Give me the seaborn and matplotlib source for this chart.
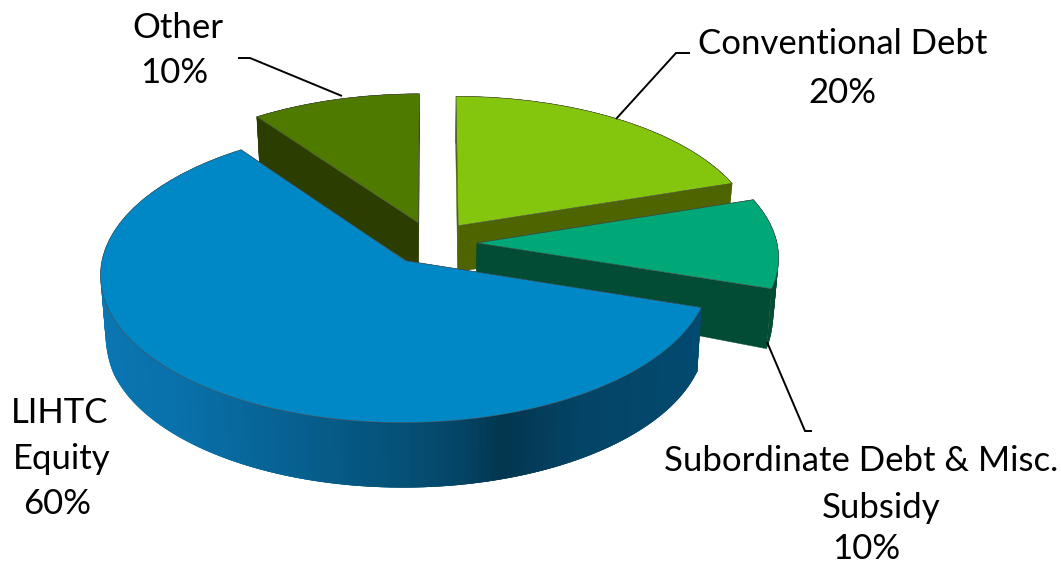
import numpy as np
import matplotlib
matplotlib.use("Agg")
import matplotlib.pyplot as plt
from matplotlib.collections import PolyCollection
from matplotlib.transforms import Transform
import seaborn as sns

# Financing sources, clockwise from twelve o'clock
sources = ["Conventional Debt", "Subordinate Debt & Misc. Subsidy", "LIHTC Equity", "Other"]
shares = [20, 10, 60, 10]
top_colors = ["#84C50E", "#00A878", "#0088C6", "#4F7A00"]
wall_colors = ["#4D6400", "#024B34", "#04486C", "#2C3D00"]
explode = [0.15, 0.15, 0.15, 0.15]
draw_order = [3, 0, 1, 2]  # back slices first, front slice last

# Projection of the unit disc onto the canvas (pixel units)
CX, CY, RX, RY, PERSP = 432.0, 243.0, 300.0, 144.0, 0.09
DEPTH_Y = [-1.12, -0.43, -0.31, 0.12, 0.95]
DEPTH_PX = [65, 64, 60, 46, 47]
BOTTOM_SHRINK = 0.985


def project(x, y, lower=False):
    x, y = np.asarray(x, float), np.asarray(y, float)
    w = 1 + PERSP * y
    px, py = RX * x / w, -RY * y / w
    if lower:
        px = px * BOTTOM_SHRINK
        py = py + np.interp(y, DEPTH_Y, DEPTH_PX)
    return CX + px, CY + py


class TiltedDisc(Transform):
    input_dims = output_dims = 2
    is_separable = False

    def transform_non_affine(self, values):
        px, py = project(values[:, 0], values[:, 1])
        return np.column_stack([px, py])


sns.set_theme(style="white")
plt.rcParams["font.family"] = ["Lato", "DejaVu Sans"]

fig = plt.figure(figsize=(10.61, 5.68), dpi=100)
ax = fig.add_axes([0, 0, 1, 1])

palette = sns.color_palette(top_colors)
wedges, _ = ax.pie(shares, explode=explode, colors=palette, startangle=90,
                   counterclock=False, frame=False,
                   wedgeprops=dict(edgecolor="#4a4a4a", linewidth=0.4))
ax.set_aspect("auto")
ax.set_xlim(0, 1061)
ax.set_ylim(568, 0)
ax.axis("off")


def blue_shade(px):
    # Side of the large slice darkens towards the front right
    stops = [100, 180, 294, 400, 457, 498, 580, 700]
    reds = [10, 9, 6, 5, 4, 3, 4, 3]
    greens = [118, 112, 96, 80, 69, 54, 68, 74]
    blues = [178, 170, 143, 118, 103, 79, 102, 112]
    return (np.interp(px, stops, reds) / 255,
            np.interp(px, stops, greens) / 255,
            np.interp(px, stops, blues) / 255)


project_tf = TiltedDisc() + ax.transData

for z, idx in enumerate(draw_order):
    w = wedges[idx]
    w.set_transform(project_tf)
    w.set_zorder(10 * z + 2)
    w.set_clip_on(False)

    cx, cy = w.center
    th = np.radians(np.linspace(w.theta1, w.theta2, 181))
    ox, oy = cx + w.r * np.cos(th), cy + w.r * np.sin(th)
    tx, ty = project(ox, oy)
    bx, by = project(ox, oy, lower=True)

    # Straight faces from the hub out to each end of the arc
    faces = []
    for ex, ey in [(ox[0], oy[0]), (ox[-1], oy[-1])]:
        line_x, line_y = np.array([cx, ex]), np.array([cy, ey])
        ux, uy = project(line_x, line_y)
        lx, ly = project(line_x, line_y, lower=True)
        faces.append(np.column_stack([np.r_[ux, lx[::-1]], np.r_[uy, ly[::-1]]]))
    ax.add_collection(PolyCollection(faces, facecolors=wall_colors[idx], edgecolors=wall_colors[idx],
                                     linewidths=0.3, zorder=10 * z))

    # Curved outer wall: each quad overlaps the next so no seams show between them
    n = len(th)
    quads = []
    shades = []
    for i in range(n - 1):
        j = min(i + 3, n - 1)
        quads.append(np.array([[tx[i], ty[i]], [tx[j], ty[j]], [bx[j], by[j]], [bx[i], by[i]]]))
        if sources[idx] == "LIHTC Equity":
            shades.append(blue_shade(tx[i]))
        else:
            shades.append(wall_colors[idx])
    ax.add_collection(PolyCollection(quads, facecolors=shades, edgecolors="none",
                                     zorder=10 * z + 1))

# Leader lines
leaders = [([238, 250, 342], [58, 58, 96]),
           ([690, 676, 616], [53, 53, 119]),
           ([767, 805, 812], [342, 431, 431])]
for lx, ly in leaders:
    ax.plot(lx, ly, color="black", lw=1.4, zorder=60, solid_capstyle="butt", solid_joinstyle="miter")

# Slice labels
FONT = 25
labels = [("Other", 178, 28), ("10%", 174, 73),
          ("Conventional Debt", 843, 44), ("20%", 842, 93),
          ("Subordinate Debt & Misc.", 861, 461), ("Subsidy", 881, 508), ("10%", 866, 549),
          ("LIHTC", 60, 413), ("Equity", 62, 459), ("60%", 57, 504)]
for text, x, y in labels:
    ax.text(x, y, text, ha="center", va="center", fontsize=FONT, color="black", zorder=70)

fig.savefig("out.png", dpi=100, facecolor="white")
